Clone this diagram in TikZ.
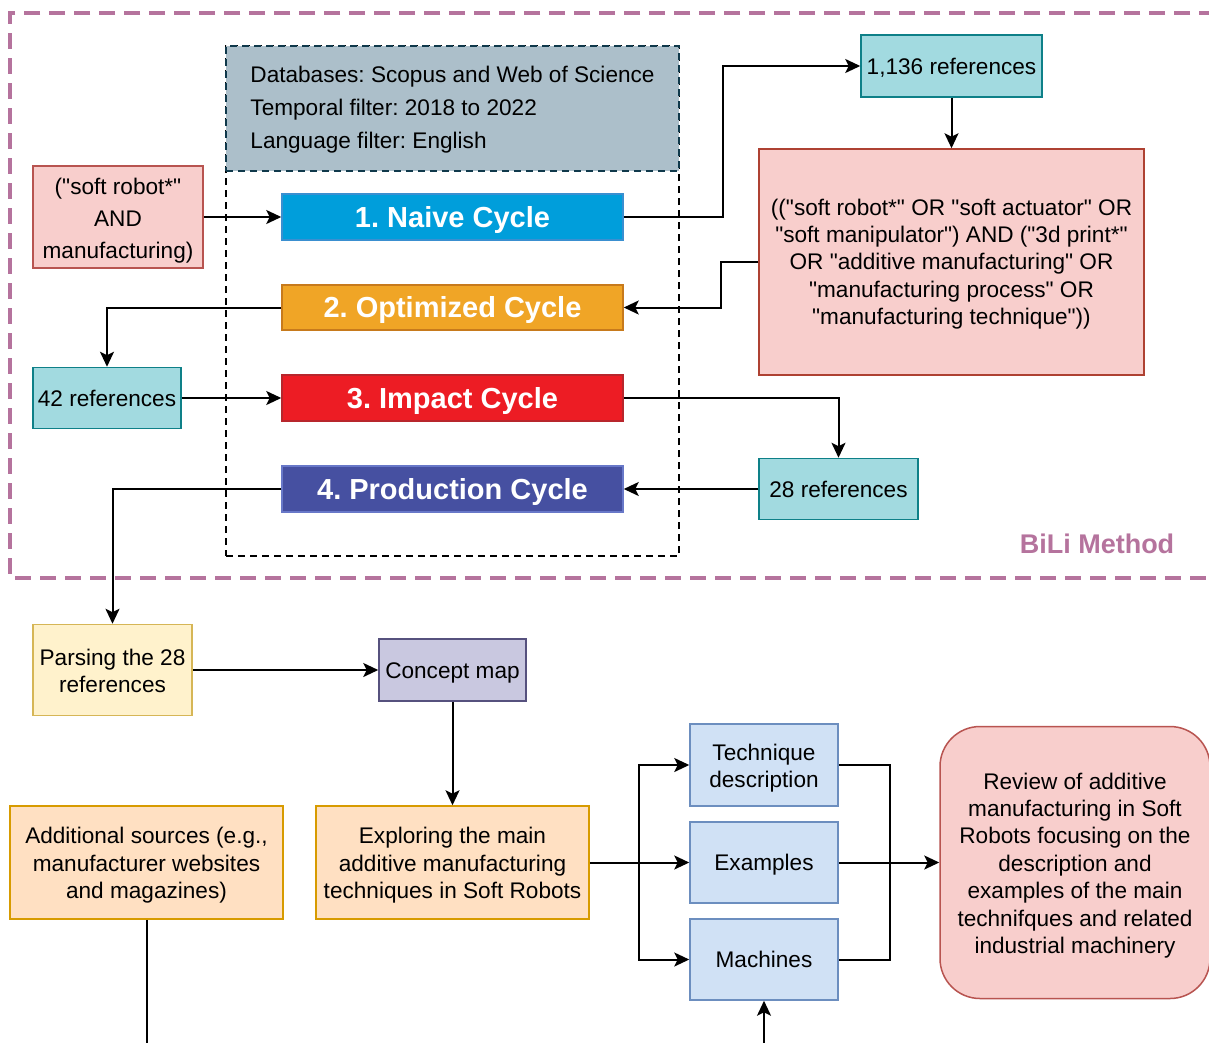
\documentclass[tikz,border=0pt]{standalone}
\usepackage{fontspec}
\newfontfamily\lib{Liberation Sans}
\usetikzlibrary{arrows.meta}
\definecolor{bili}{HTML}{B5739D}
\definecolor{redfill}{HTML}{F8CECC}
\definecolor{redline}{HTML}{B85450}
\definecolor{qline}{HTML}{AE4132}
\definecolor{tealfill}{HTML}{A2DAE0}
\definecolor{tealline}{HTML}{0E8088}
\definecolor{grayfill}{HTML}{ACBFCA}
\definecolor{grayline}{HTML}{10394B}
\definecolor{naivefill}{HTML}{009EDB}
\definecolor{naiveline}{HTML}{3A8FD0}
\definecolor{optfill}{HTML}{F0A526}
\definecolor{optline}{HTML}{C77A1C}
\definecolor{impfill}{HTML}{ED1C24}
\definecolor{impline}{HTML}{B8262C}
\definecolor{prodfill}{HTML}{4650A1}
\definecolor{prodline}{HTML}{6878C8}
\definecolor{yelfill}{HTML}{FFF2CC}
\definecolor{yelline}{HTML}{D6B656}
\definecolor{purfill}{HTML}{C9C8E0}
\definecolor{purline}{HTML}{56517E}
\definecolor{orafill}{HTML}{FFE0C2}
\definecolor{oraline}{HTML}{D79B00}
\definecolor{bluefill}{HTML}{D0E1F5}
\definecolor{blueline}{HTML}{6C8EBF}
\begin{document}
\frenchspacing
\begin{tikzpicture}[x=1pt,y=-1pt,
  box/.style={draw, line width=1.5pt, inner sep=0pt, align=center},
  one/.style={font=\lib\fontsize{22.6}{27.4}\selectfont, text height=16.2pt, text depth=0pt},
  lbl/.style={font=\lib\fontsize{22.6}{27.4}\selectfont, align=center, inner sep=0pt, yshift=-3pt},
  cyc/.style={box, text=white, font=\lib\bfseries\fontsize{29}{34}\selectfont, text height=20.8pt, text depth=0pt},
  conn/.style={line width=2pt, -{Stealth[length=15pt,width=14pt,inset=3.5pt]}},
  plain/.style={line width=2pt},
]
\path[use as bounding box, clip] (0,0) rectangle (1209,1042);
\fill[white] (0,0) rectangle (1209,1042);

% outer BiLi region
\draw[bili, line width=3.2pt, dash pattern=on 16pt off 9pt] (1240,13) -- (10,13) -- (10,578) -- (1240,578);
\node[text=bili, font=\lib\bfseries\fontsize{27}{32}\selectfont, text height=19.3pt, text depth=0pt] (bililabel) at (1097,544) {BiLi Method};

% inner container
\node[draw, line width=1.5pt, dash pattern=on 7pt off 5pt, minimum width=453, minimum height=510, inner sep=0pt] (cont) at (452.5,301) {};
\node[draw=grayline, fill=grayfill, line width=1.5pt, dash pattern=on 7pt off 5pt, minimum width=453, minimum height=125, inner sep=0pt,
  label={[lbl, align=left, yshift=2pt, font=\lib\fontsize{22.6}{33}\selectfont]center:{Databases: Scopus and Web of Science\\Temporal filter: 2018 to 2022\\Language filter: English}}] (filters) at (452.5,108.5) {};

% cycles
\node[cyc, fill=naivefill, draw=naiveline, minimum width=341, minimum height=46] (naive) at (452.5,217) {1. Naive Cycle};
\node[cyc, fill=optfill, draw=optline, minimum width=341, minimum height=45] (opt) at (452.5,307.5) {2. Optimized Cycle};
\node[cyc, fill=impfill, draw=impline, minimum width=341, minimum height=46] (impact) at (452.5,398) {3. Impact Cycle};
\node[cyc, fill=prodfill, draw=prodline, minimum width=341, minimum height=46] (prod) at (452.5,489) {4. Production Cycle};

% other boxes
\node[box, fill=redfill, draw=redline, minimum width=170, minimum height=102,
  label={[lbl, font=\lib\fontsize{22.6}{32}\selectfont, yshift=-1pt]center:{("soft robot*"\\AND\\manufacturing)}}] (soft) at (118,217) {};
\node[box, one, fill=tealfill, draw=tealline, minimum width=181, minimum height=62] (r1136) at (951.5,66) {1,136 references};
\node[box, fill=redfill, draw=qline, minimum width=385, minimum height=226,
  label={[lbl, yshift=1pt]center:{(("soft robot*" OR "soft actuator" OR\\"soft manipulator") AND ("3d print*"\\OR "additive manufacturing" OR\\"manufacturing process" OR\\"manufacturing technique"))}}] (query) at (951.5,262) {};
\node[box, one, fill=tealfill, draw=tealline, minimum width=148, minimum height=61] (r42) at (107,398) {42 references};
\node[box, one, fill=tealfill, draw=tealline, minimum width=159, minimum height=61] (r28) at (838.5,489) {28 references};

\node[box, fill=yelfill, draw=yelline, minimum width=159, minimum height=91,
  label={[lbl, yshift=2pt]center:{Parsing the 28\\references}}] (parse) at (112.5,670) {};
\node[box, one, fill=purfill, draw=purline, minimum width=147, minimum height=62] (concept) at (452.5,670) {Concept map};
\node[box, fill=orafill, draw=oraline, minimum width=273, minimum height=113,
  label={[lbl]center:{Additional sources (e.g.,\\manufacturer websites\\and magazines)}}] (addl) at (146.5,862.5) {};
\node[box, fill=orafill, draw=oraline, minimum width=273, minimum height=113,
  label={[lbl]center:{Exploring the main\\additive manufacturing\\techniques in Soft Robots}}] (explore) at (452.5,862.5) {};
\node[box, fill=bluefill, draw=blueline, minimum width=148, minimum height=82,
  label={[lbl]center:{Technique\\description}}] (tech) at (764,765) {};
\node[box, one, fill=bluefill, draw=blueline, minimum width=148, minimum height=81] (examples) at (764,862.5) {Examples};
\node[box, one, fill=bluefill, draw=blueline, minimum width=148, minimum height=81] (machines) at (764,959.5) {Machines};
\node[box, fill=redfill, draw=redline, rounded corners=40pt, minimum width=270, minimum height=272,
  label={[lbl]center:{Review of additive\\manufacturing in Soft\\Robots focusing on the\\description and\\examples of the main\\technifques and related\\industrial machinery}}] (review) at (1075,862.5) {};

% connectors
\draw[conn] (soft.east) -- (naive.west);
\draw[conn] (naive.east) -- ++(99,0) |- (r1136.west);
\draw[conn] (r1136.south) -- (query.north);
\draw[conn] (query.west) -- ++(-37,0) |- (opt.east);
\draw[conn] (opt.west) -| (r42.north);
\draw[conn] (r42.east) -- (impact.west);
\draw[conn] (impact.east) -| (r28.north);
\draw[conn] (r28.west) -- (prod.east);
\draw[conn] (prod.west) -| (parse.north);
\draw[conn] (parse.east) -- (concept.west);
\draw[conn] (concept.south) -- (explore.north);
\draw[conn] (explore.east) -- (examples.west);
\coordinate (br) at (639,862.5);
\draw[conn] (br) |- (tech.west);
\draw[conn] (br) |- (machines.west);
\draw[plain] (tech.east) -- ++(51,0) |- (machines.east);
\draw[conn] (examples.east) -- (review.west);
\draw[conn] (addl.south) -- ++(0,170) -| (machines.south);
\end{tikzpicture}
\end{document}
